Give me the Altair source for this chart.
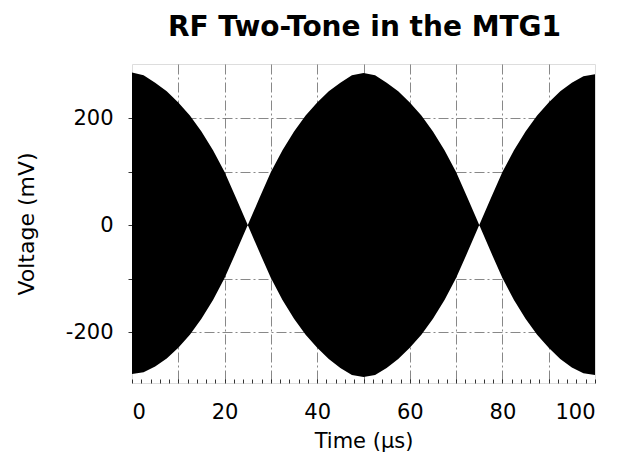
import altair as alt
import pandas as pd

# time (µs) and envelope amplitude (mV)
time_us = [0, 2.5, 5, 7.5, 10, 12.5, 15, 17.5, 20, 22.5, 25,
           27.5, 30, 32.5, 35, 37.5, 40, 42.5, 45, 47.5, 50,
           52.5, 55, 57.5, 60, 62.5, 65, 67.5, 70, 72.5, 75,
           77.5, 80, 82.5, 85, 87.5, 90, 92.5, 95, 97.5, 100]
upper_mv = [285, 280, 266, 250, 229, 205, 175, 140, 99, 50, 0,
            50, 99, 140, 175, 205, 229, 250, 266, 280, 284,
            280, 266, 250, 229, 205, 175, 140, 99, 50, 0,
            50, 99, 140, 175, 205, 229, 250, 266, 278, 282]
lower_mv = [-278, -275, -264, -249, -229, -205, -175, -140, -99, -50, 0,
            -50, -99, -140, -175, -205, -229, -250, -267, -280, -284,
            -280, -267, -250, -229, -205, -175, -140, -99, -50, 0,
            -50, -99, -140, -175, -205, -229, -250, -266, -277, -280]

df = pd.DataFrame({"t": time_us, "hi": upper_mv, "lo": lower_mv})

x_ticks = list(range(0, 101, 2))
y_ticks = [-200, -100, 0, 100, 200]
FONT = "DejaVu Sans"
GRID_DASH = [10, 3, 2, 3]

chart = alt.Chart(df).mark_area(color="black", interpolate="linear").encode(
    x=alt.X("t:Q", scale=alt.Scale(domain=[0, 100], nice=False),
            axis=alt.Axis(values=x_ticks, title="Time (µs)",
                          labelExpr="datum.value % 20 === 0 ? toString(datum.value) : ''",
                          grid=True,
                          gridOpacity={"condition": {"test": "datum.value % 10 === 0 && datum.value > 0 && datum.value < 100", "value": 1}, "value": 0},
                          gridColor="#555", gridDash=GRID_DASH, gridWidth=0.7,
                          domain=False, offset=-4, tickSize=4, tickColor="black",
                          tickWidth=0.8, labelPadding=18, labelFontSize=21,
                          labelFont=FONT, labelColor="black", titleFont=FONT,
                          titleFontSize=21, titleFontWeight="normal",
                          titleColor="black", titlePadding=8)),
    y=alt.Y("hi:Q", scale=alt.Scale(domain=[-295, 301], nice=False, zero=False),
            axis=alt.Axis(values=y_ticks, title="Voltage (mV)",
                          labelExpr="datum.value % 200 === 0 ? toString(datum.value) : ''",
                          grid=True, gridColor="#555", gridDash=GRID_DASH,
                          gridWidth=0.7, domain=False, tickSize=4,
                          tickColor="black", tickWidth=0.8, labelPadding=15,
                          labelFontSize=21, labelFont=FONT, labelColor="black",
                          titleFont=FONT, titleFontSize=22,
                          titleFontWeight="normal", titleColor="black",
                          titlePadding=27)),
    y2="lo:Q",
).properties(
    width=463, height=319,
    title=alt.TitleParams("RF Two-Tone in the MTG1", font="DejaVu Sans",
                          fontSize=28, fontWeight="bold", color="black",
                          anchor="middle", frame="group", dx=1, offset=22),
    autosize=alt.AutoSizeParams(type="none"),
    padding={"left": 132, "top": 64, "right": 33, "bottom": 70},
).configure_view(stroke="black", strokeWidth=1.5).configure(background="white")

chart.save("out.html", embed_options={"renderer": "svg", "actions": False})
